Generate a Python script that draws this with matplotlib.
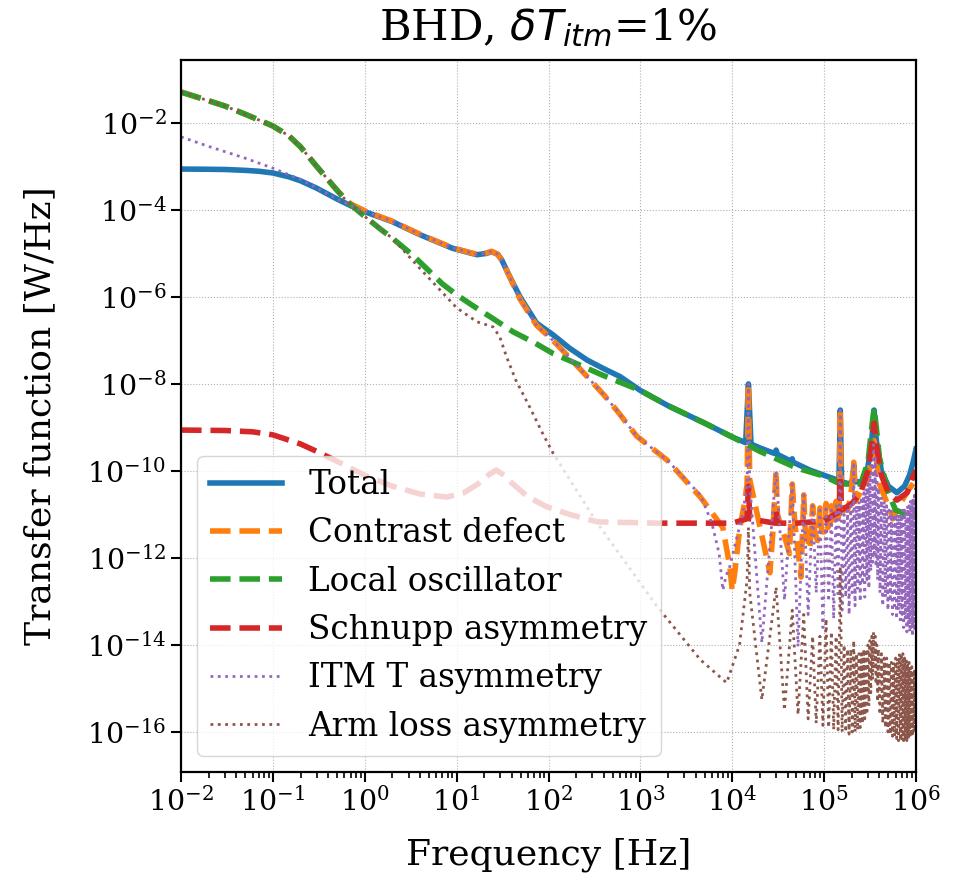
import matplotlib
matplotlib.use("Agg")
import matplotlib.pyplot as plt
import matplotlib.ticker as ticker
import numpy as np

plt.rcParams['font.family'] = ['DejaVu Serif']

# values: frequency [Hz] and log10 of transfer function [W/Hz]

# Total
total_f = [1e-2, 2e-2, 3e-2, 5e-2, 7e-2, 0.1, 0.15, 0.2, 0.3, 0.5, 0.7, 1, 2, 4, 9, 16.6, 21, 24, 28,
           31, 38, 49, 74, 112, 170, 263, 400, 600, 1e3, 2e3, 5e3,
           1e4, 1.4e4, 1.5e4, 1.6e4, 2e4, 2.9e4, 3.0e4, 3.1e4, 4.4e4, 4.5e4, 4.6e4, 7e4, 1e5,
           1.45e5, 1.5e5, 1.55e5, 1.9e5, 2.05e5, 2.1e5, 2.15e5, 2.6e5, 3.0e5, 3.3e5, 3.5e5, 3.7e5,
           4.2e5, 5e5, 6.2e5, 7.5e5, 8.5e5, 9.3e5, 1e6]
total_exp = [-3.06, -3.065, -3.07, -3.09, -3.11, -3.15, -3.24, -3.33, -3.5, -3.75, -3.9, -4.04, -4.27,
             -4.57, -4.88, -5.03, -5.0, -4.96, -5.02,
             -5.15, -5.54, -6.0, -6.6, -6.87, -7.18, -7.45, -7.65, -7.83, -8.15, -8.5, -8.9,
             -9.22, -9.35, -8.0, -9.38, -9.47, -9.6, -9.52, -9.62, -9.78, -9.72, -9.8, -9.98, -10.1,
             -10.22, -8.6, -10.25, -10.3, -10.2, -9.86, -10.25, -10.25, -9.9, -9.3, -8.6, -9.3,
             -10.0, -10.35, -10.5, -10.35, -10.1, -9.8, -9.5]

# Contrast defect
contrast_f = [1e-2, 2e-2, 3e-2, 5e-2, 7e-2, 0.1, 0.15, 0.2, 0.3, 0.5, 0.7, 1, 2, 4, 9, 16.6, 21, 24, 28,
              31, 38, 49, 74, 112, 170, 263, 400, 550, 912, 1950, 4.5e3,
              7.9e3, 9.4e3, 1.0e4, 1.07e4, 1.21e4, 1.37e4, 1.45e4, 1.5e4, 1.55e4, 1.9e4, 2.57e4, 2.75e4,
              3.0e4, 3.1e4, 3.7e4, 4.2e4, 4.5e4, 4.8e4, 5.6e4, 6.0e4, 6.2e4, 7.0e4, 7.5e4, 7.9e4,
              8.5e4, 9.0e4, 9.4e4, 1.01e5, 1.05e5, 1.1e5, 1.16e5, 1.2e5, 1.25e5, 1.31e5, 1.35e5, 1.4e5,
              1.46e5, 1.5e5, 1.54e5, 1.8e5, 1.95e5, 2.1e5, 2.2e5, 2.6e5, 3.0e5, 3.5e5, 4.0e5, 5.2e5,
              5.6e5, 6.5e5, 8.5e5, 1e6]
contrast_exp = [-1.29, -1.49, -1.61, -1.8, -1.93, -2.07, -2.3, -2.55, -3.0, -3.55, -3.86, -4.02, -4.26,
                -4.56, -4.87, -5.02, -4.99, -4.95, -5.02,
                -5.15, -5.55, -6.05, -6.65, -7.0, -7.4, -7.83, -8.25, -8.6, -9.2, -9.75, -10.6,
                -11.3, -12.2, -12.75, -12.3, -11.3, -10.7, -10.3, -8.0, -10.2, -11.06, -12.34, -11.5,
                -9.98, -11.0, -11.5, -11.9, -10.3, -11.2, -12.44, -10.55, -11.3, -11.8, -10.8, -11.4,
                -11.6, -10.85, -11.4, -11.4, -10.75, -11.3, -11.2, -10.8, -11.2, -11.1, -10.7, -11.1,
                -11.0, -8.6, -10.9, -10.9, -10.6, -9.8, -10.7, -10.4, -10.2, -9.3, -10.3, -10.9,
                -11.1, -10.8, -10.4, -10.2]

# Local oscillator
lo_f = [1e-2, 2e-2, 3e-2, 5e-2, 7e-2, 0.1, 0.15, 0.2, 0.3, 0.5, 0.635, 1, 1.5, 2, 3.37, 5, 7, 10,
        15, 25, 41, 70, 112, 186, 389,
        1e3, 2e3, 5e3, 1e4, 2e4, 5e4, 1e5, 1.5e5, 2.5e5, 3.0e5, 3.3e5, 3.5e5, 3.7e5, 4e5, 5e5,
        6e5, 7e5, 8e5, 9e5, 1e6]
lo_exp = [-1.29, -1.49, -1.61, -1.8, -1.93, -2.07, -2.3, -2.55, -3.0, -3.55, -3.8, -4.15, -4.45,
          -4.65, -5.05, -5.4, -5.7, -5.95,
          -6.2, -6.5, -6.8, -7.05, -7.3, -7.5, -7.8,
          -8.15, -8.5, -8.9, -9.22, -9.55, -9.93, -10.12, -10.3, -10.3, -9.8, -9.0, -8.55, -9.0, -9.7,
          -10.5, -10.9, -10.95, -11.05, -11.0, -10.9]

# Schnupp asymmetry
schnupp_f = [1e-2, 3e-2, 6e-2, 0.1, 0.2, 0.3, 0.5, 1.0, 2, 4, 7.8, 12, 17, 22, 27, 33, 40, 60, 95,
             170, 340, 1.5e3, 1.0e4,
             1.45e4, 1.5e4, 1.55e4, 2.9e4, 3.0e4, 3.1e4, 5e4, 1e5, 1.3e5, 1.45e5, 1.5e5, 1.55e5,
             2e5, 2.5e5, 3.0e5, 3.3e5, 3.5e5, 3.7e5, 4.2e5, 5e5, 6.2e5, 8e5, 9e5, 1e6]
schnupp_exp = [-9.06, -9.07, -9.1, -9.17, -9.38, -9.55, -9.78, -10.1, -10.35, -10.53, -10.6, -10.5,
               -10.3, -10.1, -9.98, -10.1, -10.28, -10.6, -10.82,
               -11.0, -11.17, -11.2, -11.2,
               -11.1, -10.35, -11.1, -11.2, -10.9, -11.2, -11.2, -11.15, -11.0, -10.95, -10.1, -10.9,
               -10.75, -10.5, -10.0, -9.4, -8.9, -9.4, -10.1, -10.5, -10.67, -10.5, -10.2, -9.98]

# ITM T asymmetry, below the comb
itm_f = [1e-2, 2e-2, 5e-2, 0.1, 0.2, 0.35, 0.5, 0.7, 1, 2, 4, 9, 16.6, 21, 24, 28, 31, 38, 49, 74,
         112, 170, 263, 400, 550, 912, 1950, 4.5e3, 6e3, 7.2e3, 7.9e3, 8.6e3, 9.4e3, 1.1e4, 1.3e4,
         1.45e4, 1.5e4, 1.55e4]
itm_exp = [-2.32, -2.54, -2.81, -3.04, -3.3, -3.57, -3.75, -3.89, -4.03, -4.26, -4.56, -4.87, -5.02,
           -4.99, -4.95, -5.02, -5.15, -5.55, -6.05, -6.65,
           -7.0, -7.4, -7.83, -8.25, -8.6, -9.2, -9.75, -10.55, -11.2, -11.9, -12.74, -12.4, -12.2,
           -11.6, -11.0, -10.3, -8.0, -10.3]

# Arm loss asymmetry, below the comb
arm_f = [1e-2, 2e-2, 3e-2, 5e-2, 7e-2, 0.1, 0.15, 0.2, 0.3, 0.5, 0.635, 1, 1.5, 2, 4, 6.6, 10, 16.6,
         25, 29.5, 35, 44, 62, 86, 112, 340, 1500, 4500, 8.7e3, 1.2e4, 1.45e4, 1.5e4, 1.55e4]
arm_exp = [-1.29, -1.49, -1.61, -1.8, -1.93, -2.07, -2.3, -2.55, -3.0, -3.55, -3.8, -4.15, -4.45,
           -4.65, -5.35, -5.84, -6.25, -6.57,
           -6.69, -6.92, -7.38, -7.91, -8.52, -9.13, -9.59, -11.2, -13.1, -14.34, -14.87, -14.0,
           -12.5, -11.3, -12.8]

# cavity comb above 20 kHz (trough, peak, trough, ...)
comb_f = [2.1e4, 3.0e4, 3.7e4, 4.5e4, 5.2e4, 6.0e4, 6.7e4, 7.5e4, 8.2e4, 9.0e4, 9.7e4, 1.05e5,
          1.12e5, 1.2e5, 1.27e5, 1.35e5, 1.42e5, 1.5e5, 1.57e5, 1.65e5, 1.72e5, 1.8e5, 1.87e5,
          1.95e5, 2.02e5, 2.1e5, 2.17e5, 2.25e5, 2.32e5, 2.4e5, 2.47e5, 2.55e5, 2.62e5, 2.7e5,
          2.77e5, 2.85e5, 2.92e5, 3.0e5, 3.07e5, 3.15e5, 3.22e5, 3.3e5, 3.37e5, 3.45e5, 3.52e5,
          3.6e5, 3.67e5, 3.75e5, 3.82e5, 3.9e5, 4.05e5, 4.2e5, 4.35e5, 4.5e5, 4.65e5, 4.8e5, 4.95e5,
          5.1e5, 5.25e5, 5.4e5, 5.55e5, 5.7e5, 5.85e5, 6.0e5, 6.15e5, 6.3e5, 6.45e5, 6.6e5, 6.75e5,
          6.9e5, 7.05e5, 7.2e5, 7.35e5, 7.5e5, 7.65e5, 7.8e5, 7.95e5, 8.1e5, 8.25e5, 8.4e5, 8.55e5,
          8.7e5, 8.85e5, 9.0e5, 9.15e5, 9.3e5, 9.45e5, 9.6e5, 9.75e5, 9.9e5, 1.0e6]
itm_comb_exp = [-13.95, -10.0, -12.97, -10.3, -14.04, -10.55, -13.3, -10.8, -12.8, -10.9, -13.6, -10.8,
                -13.0, -10.9, -13.4, -10.8, -12.9, -8.6, -13.2, -11.0, -12.9, -10.9, -13.3,
                -10.8, -12.8, -9.8, -13.1, -10.8, -12.7, -10.7, -13.0, -10.6, -12.6, -10.5,
                -12.9, -10.4, -12.5, -10.3, -12.7, -10.1, -12.3, -9.8, -12.1, -9.4, -11.9,
                -9.7, -12.2, -10.1, -12.5, -10.4, -12.8, -10.6, -13.1, -10.7, -12.9, -10.8, -13.2,
                -10.9, -13.0, -10.9, -13.3, -11.0, -13.1, -11.0, -13.4, -11.0, -13.2, -11.0, -13.5,
                -11.0, -13.3, -10.9, -13.6, -10.9, -13.4, -10.9, -13.7, -10.8, -13.5, -10.8, -13.7,
                -10.7, -13.6, -10.7, -13.8, -10.6, -13.6, -10.5, -13.7, -10.4, -12.0]
arm_comb_exp = [-15.26, -12.67, -15.5, -13.2, -15.6, -13.3, -15.7, -13.8, -15.8, -13.8, -15.85, -13.4,
                -15.9, -13.7, -15.95, -13.8, -15.95, -12.2, -16.0, -14.0, -16.0, -14.1, -16.05,
                -14.1, -16.0, -13.9, -16.0, -14.2, -15.95, -14.2, -15.9, -14.2, -15.8, -14.1,
                -15.7, -14.1, -15.6, -14.0, -15.4, -13.9, -15.1, -13.8, -14.8, -13.7, -14.5,
                -13.8, -14.9, -14.0, -15.3, -14.1, -15.6, -14.2, -15.8, -14.3, -15.9, -14.3, -16.0,
                -14.4, -16.05, -14.4, -16.1, -14.4, -16.1, -14.3, -16.15, -14.3, -16.2, -14.2, -16.2,
                -14.2, -16.2, -14.2, -16.2, -14.3, -16.2, -14.3, -16.2, -14.4, -16.15, -14.4, -16.15,
                -14.5, -16.1, -14.5, -16.1, -14.6, -16.0, -14.6, -16.0, -14.6, -15.5]

labels = ['Total', 'Contrast defect', 'Local oscillator', 'Schnupp asymmetry',
          'ITM T asymmetry', 'Arm loss asymmetry']

fig = plt.figure(figsize=(9.69, 8.77), dpi=100)
ax = fig.add_axes([0.1868, 0.1197, 0.7585, 0.8119])

ax.loglog(total_f, 10.0 ** np.array(total_exp), '-', color='C0', lw=4, label=labels[0])
ax.loglog(contrast_f, 10.0 ** np.array(contrast_exp), '--', color='C1', lw=4, label=labels[1])
ax.loglog(lo_f, 10.0 ** np.array(lo_exp), '--', color='C2', lw=4, label=labels[2])
ax.loglog(schnupp_f, 10.0 ** np.array(schnupp_exp), '--', color='C3', lw=4, label=labels[3])
ax.loglog(itm_f + comb_f, 10.0 ** np.array(itm_exp + itm_comb_exp), ':', color='C4', lw=2,
          label=labels[4])
ax.loglog(arm_f + comb_f, 10.0 ** np.array(arm_exp + arm_comb_exp), ':', color='C5', lw=2,
          label=labels[5])

ax.set_xlim(1e-2, 1e6)
ax.set_ylim(1.2e-17, 2.8e-1)
ax.set_xticks(10.0 ** np.arange(-2, 7))
ax.set_yticks(10.0 ** np.arange(-16, -1, 2))
ax.yaxis.set_minor_locator(ticker.NullLocator())
ax.grid(True, which='major', linestyle=':', color='#b0b0b0', lw=0.8)

for s in ax.spines.values():
    s.set_linewidth(1.6)
ax.tick_params(which='major', length=7, width=1.5, labelsize=20.5)
ax.tick_params(which='minor', length=4, width=1.2)

ax.set_xlabel('Frequency [Hz]', fontsize=26, labelpad=15)
ax.set_ylabel('Transfer function [W/Hz]', fontsize=26, labelpad=21)
ax.set_title(r'BHD, $\delta T_{itm}$=1%', fontsize=31, pad=14)

ax.legend(loc='lower left', fontsize=23.5, handlelength=2.2)

fig.savefig('out.png', dpi=100)
